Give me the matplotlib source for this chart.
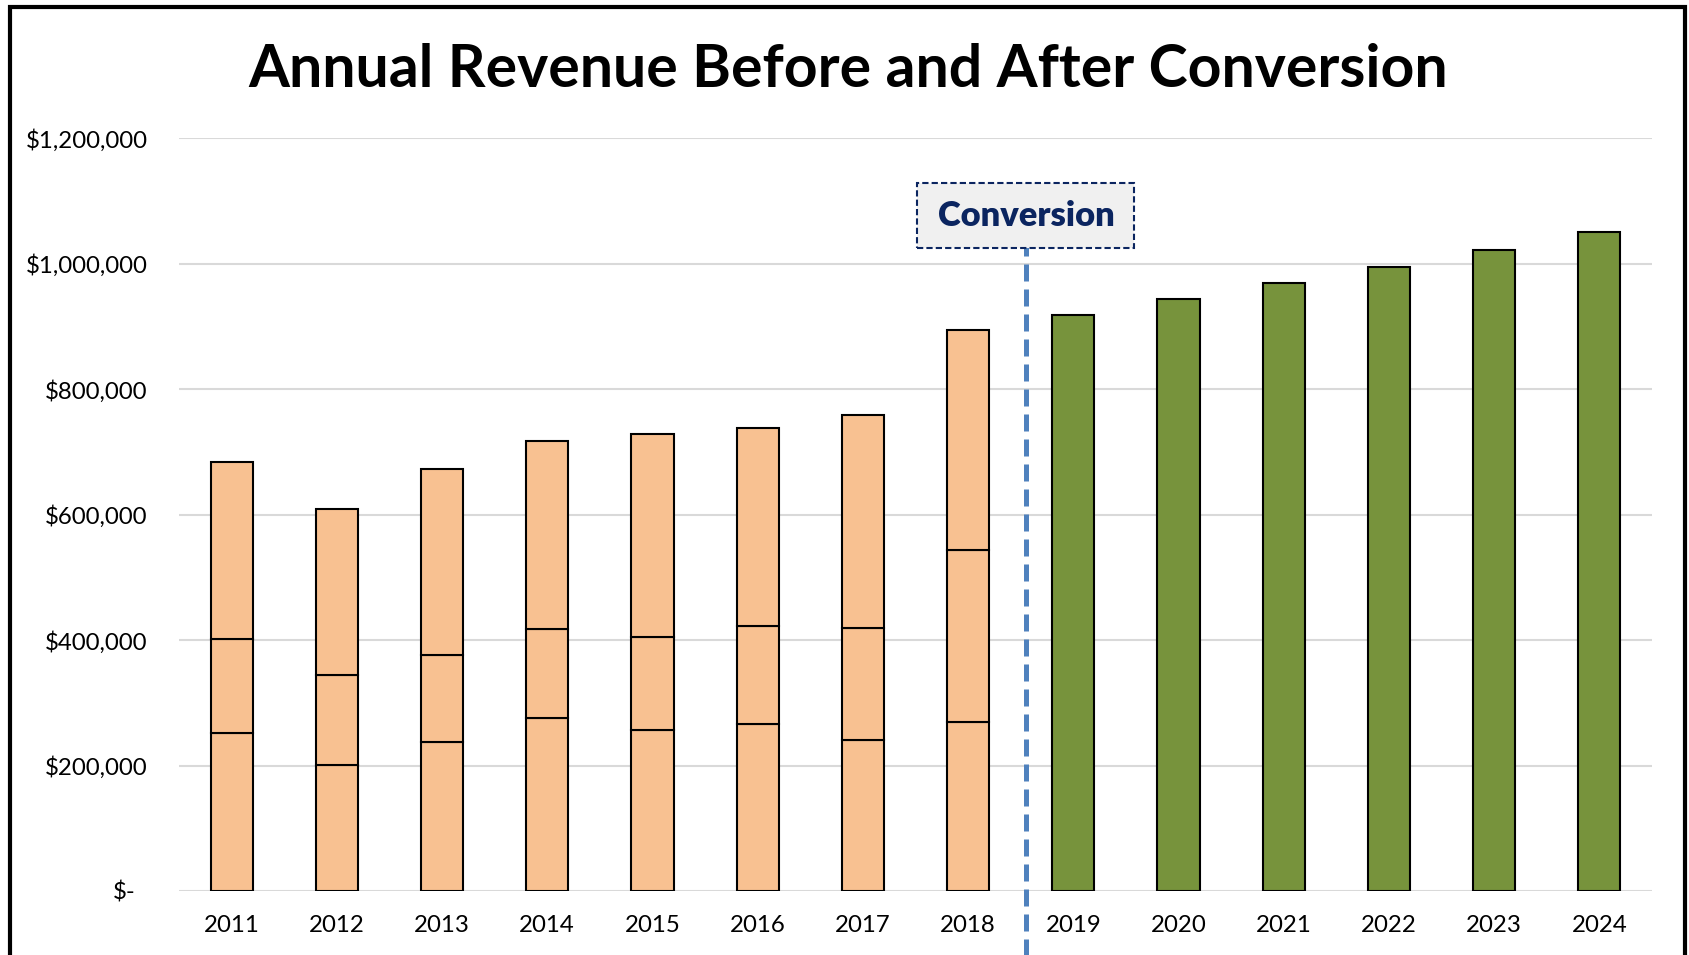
import matplotlib
matplotlib.use("Agg")
import matplotlib.pyplot as plt
import matplotlib.patches as mpatches
from matplotlib.ticker import FuncFormatter, MultipleLocator
import matplotlib.transforms as mtransforms

plt.rcParams['font.family'] = ['Lato', 'DejaVu Sans']

years = ['2011', '2012', '2013', '2014', '2015', '2016', '2017', '2018',
         '2019', '2020', '2021', '2022', '2023', '2024']
before_years = years[:8]
after_years = years[8:]

seg_bottom = [252000, 201000, 238000, 276000, 256000, 267000, 241000, 270000]
seg_middle = [150000, 144000, 139000, 142000, 149000, 155000, 178000, 274000]
seg_top = [282000, 264000, 295000, 300000, 324000, 316000, 340000, 350000]
after_revenue = [919000, 944000, 970000, 995000, 1022000, 1050000]

title = "Annual Revenue Before and After Conversion"
marker_label = "Conversion"
conversion_pos = 7.55

ORANGE = '#F8C191'
GREEN = '#77933C'
NAVY = '#0B2560'
LINE_BLUE = '#4F81BD'

fig = plt.figure(figsize=(16.89, 9.55), dpi=100)
ax = fig.add_axes([179/1689, 1-891/955, (1652-179)/1689, (891-138.3)/955])

x_before = list(range(len(before_years)))
x_after = list(range(len(before_years), len(years)))
w = 0.4
ekw = dict(edgecolor='black', linewidth=1.5, zorder=3)

mid_base = [a for a in seg_bottom]
top_base = [a + b for a, b in zip(seg_bottom, seg_middle)]
ax.bar(x_before, seg_bottom, width=w, color=ORANGE, **ekw)
ax.bar(x_before, seg_middle, width=w, bottom=mid_base, color=ORANGE, **ekw)
ax.bar(x_before, seg_top, width=w, bottom=top_base, color=ORANGE, **ekw)
ax.bar(x_after, after_revenue, width=w, color=GREEN, **ekw)

ax.set_xlim(-0.5, len(years) - 0.5)
ax.set_ylim(0, 1200000)
ax.yaxis.set_major_locator(MultipleLocator(200000))


def fmt(v, pos):
    if v == 0:
        return '$-'
    return '${:,.0f}'.format(v)


ax.yaxis.set_major_formatter(FuncFormatter(fmt))
ax.set_xticks(range(len(years)))
ax.set_xticklabels(years)
ax.grid(axis='y', color='#D9D9D9', linewidth=1.5, zorder=0)
ax.set_axisbelow(True)
for s in ax.spines.values():
    s.set_visible(False)
ax.tick_params(axis='both', length=0, labelsize=17.3, colors='black')
ax.tick_params(axis='y', pad=22.5)
ax.tick_params(axis='x', pad=17.5)

# shift "$-" label left (accounting format)
fig.canvas.draw()
for lab in ax.get_yticklabels():
    if lab.get_text() == '$-':
        lab.set_transform(lab.get_transform() + mtransforms.ScaledTranslation(-12/100, 0, fig.dpi_scale_trans))

# conversion dashed line
ax.axvline(conversion_pos, ymin=-0.1, ymax=(891-247)/752.7, color=LINE_BLUE,
           linewidth=3.6, linestyle=(0, (3.4, 1.6)), clip_on=False, zorder=4)

# conversion box
bw = 217/105.2
bh = 64.7 * 200000 / 125.7
yc = (891-214.3) * 200000 / 125.7
rect = mpatches.Rectangle((conversion_pos - bw/2, yc - bh/2), bw, bh,
                          facecolor='#F0F0F0', edgecolor=NAVY, linewidth=1.5,
                          linestyle=(0, (3, 1.5)), zorder=5, clip_on=False)
ax.add_patch(rect)
ax.text(conversion_pos, yc, marker_label, ha='center', va='center',
        fontsize=24.8, fontweight='heavy', color=NAVY, zorder=6)

fig.text(848/1689, 1-86.7/955, title, ha='center', va='baseline',
         fontsize=42.5, fontweight='bold', color='black')

# outer border
border = mpatches.Rectangle((9.5/1689, -0.05), (1685-9.5)/1689, 1.05 - 7.5/955,
                            transform=fig.transFigure, fill=False,
                            edgecolor='black', linewidth=3, zorder=10)
fig.patches.append(border)

fig.savefig('out.png', dpi=100)
